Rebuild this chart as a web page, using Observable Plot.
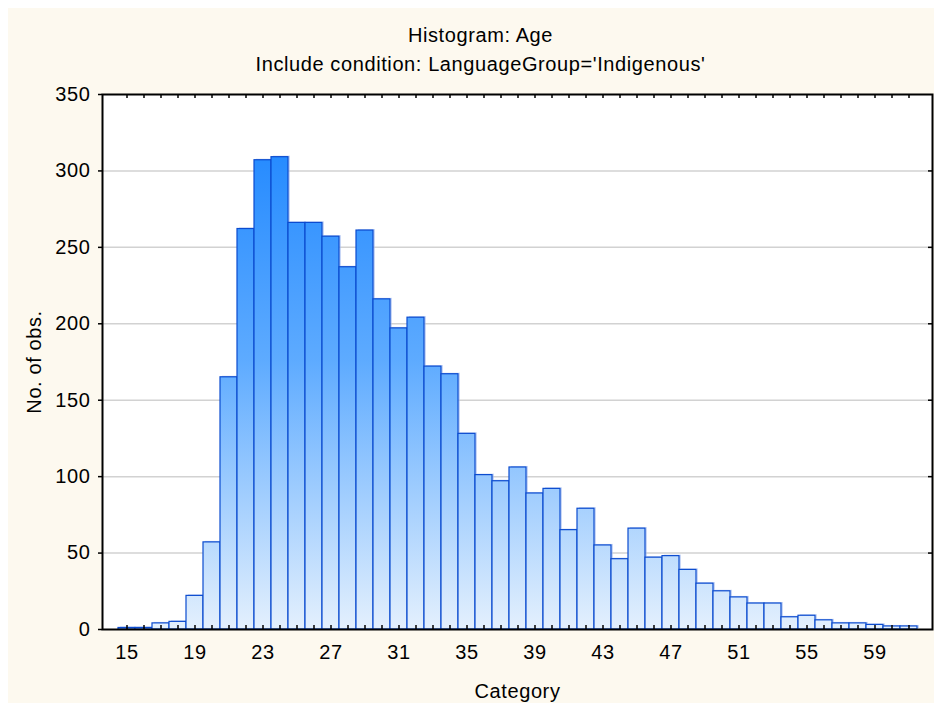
<!DOCTYPE html>
<html>
<head>
<meta charset="utf-8">
<script src="https://cdn.jsdelivr.net/npm/d3@7"></script>
<script src="https://cdn.jsdelivr.net/npm/@observablehq/plot@0.6"></script>
<style>
  html, body { margin: 0; padding: 0; background: #ffffff; }
  #wrap { position: relative; width: 934px; height: 703px; overflow: hidden; }
  #panel { position: absolute; left: 8px; top: 8px; width: 926px; height: 695px; background: #fdf9ef; }
  #chart { position: absolute; left: 0; top: 0; }
</style>
</head>
<body>
<div id="wrap"><div id="panel"></div><div id="chart"></div></div>
<script>
const titleText = "Histogram: Age";
const subtitleText = "Include condition: LanguageGroup='Indigenous'";
const xLabel = "Category";
const yLabel = "No. of obs.";

const categories = [15,16,17,18,19,20,21,22,23,24,25,26,27,28,29,30,31,32,33,34,35,36,37,38,39,40,41,42,43,44,45,46,47,48,49,50,51,52,53,54,55,56,57,58,59,60,61];
const counts = [1,1,4,5,22,57,165,262,307,309,266,266,257,237,261,216,197,204,172,167,128,101,97,106,89,92,65,79,55,46,66,47,48,39,30,25,21,17,17,8,9,6,4,4,3,2,2];
const xTickLabels = [15,19,23,27,31,35,39,43,47,51,55,59];
const yTicks = [0,50,100,150,200,250,300,350];
const yGrid = [50,100,150,200,250,300];

const data = categories.map((c, i) => ({category: c, count: counts[i]}));

const W = 934, H = 703;
const mL = 102, mR = 2, mT = 94, mB = 74;
const plotW = W - mL - mR, plotH = H - mT - mB;

const gradientDefs = (index, scales, values, dims) => {
  const ns = "http://www.w3.org/2000/svg";
  const defs = document.createElementNS(ns, "defs");
  defs.innerHTML = `<linearGradient id="barGrad" gradientUnits="userSpaceOnUse" x1="0" x2="0" y1="${dims.marginTop}" y2="${dims.height - dims.marginBottom}">
      <stop offset="0" stop-color="#1682ff"/>
      <stop offset="0.5" stop-color="#5eabff"/>
      <stop offset="1" stop-color="#e4f0fd"/>
    </linearGradient>`;
  return defs;
};

const font = "'Liberation Sans', Arial, sans-serif";
const fs = 20;

const chart = Plot.plot({
  width: W,
  height: H,
  marginLeft: mL,
  marginRight: mR,
  marginTop: mT,
  marginBottom: mB,
  style: {fontFamily: font, fontSize: fs + "px", letterSpacing: "0.6px", background: "transparent", color: "#000"},
  x: {type: "band", domain: categories, paddingInner: 0, paddingOuter: 0.5},
  y: {domain: [0, 350]},
  marks: [
    gradientDefs,
    Plot.frame({fill: "white", stroke: "none"}),
    Plot.gridY(yGrid, {stroke: "#d2d2d2", strokeOpacity: 1, strokeWidth: 1.5}),
    Plot.barY(data, {x: "category", y: "count", fill: "#9db7ee", fillOpacity: 0.55, dx: 2, dy: -1}),
    Plot.barY(data, {x: "category", y: "count", fill: "url(#barGrad)", stroke: "#0b4bcf", strokeWidth: 1.2}),
    Plot.tickX(categories, {x: d => d, insetTop: plotH - 4, stroke: "black", strokeWidth: 1.5}),
    Plot.tickX(categories, {x: d => d, insetBottom: plotH - 4, stroke: "black", strokeWidth: 1.5}),
    Plot.tickY(yGrid, {y: d => d, insetLeft: plotW - 4, stroke: "black", strokeWidth: 1.5}),
    Plot.axisX({ticks: xTickLabels, tickSize: 0, tickPadding: 15, label: null, fontSize: fs}),
    Plot.axisY({ticks: yTicks, tickSize: 4, tickPadding: 8, label: null, fontSize: fs, strokeWidth: 1.5}),
    Plot.frame({stroke: "black", strokeWidth: 2}),
    Plot.text([titleText], {frameAnchor: "top", dx: -37, dy: -58.7, lineAnchor: "middle", textAnchor: "middle", fontSize: fs, fill: "#000"}),
    Plot.text([subtitleText], {frameAnchor: "top", dx: -37, dy: -29.7, lineAnchor: "middle", textAnchor: "middle", fontSize: fs, fill: "#000"}),
    Plot.text([xLabel], {frameAnchor: "bottom", dy: 61.6, lineAnchor: "middle", textAnchor: "middle", fontSize: fs, fill: "#000"}),
    Plot.text([yLabel], {frameAnchor: "left", dx: -68, rotate: -90, lineAnchor: "middle", textAnchor: "middle", fontSize: fs, fill: "#000"})
  ]
});
document.getElementById("chart").appendChild(chart);
</script>
</body>
</html>
